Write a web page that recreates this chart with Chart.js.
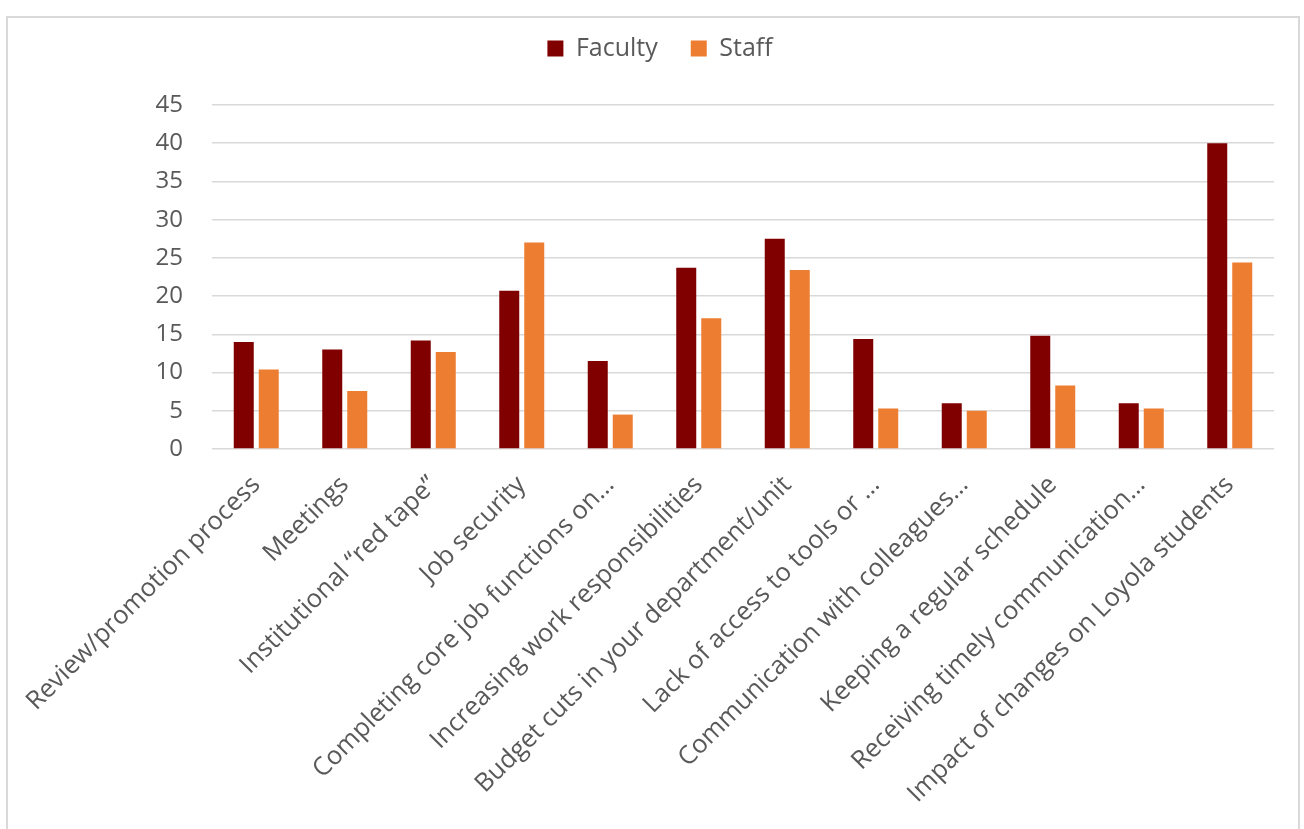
<!DOCTYPE html>
<html>
<head>
<meta charset="utf-8">
<script src="https://cdn.jsdelivr.net/npm/chart.js@4"></script>
<style>
    body { margin: 0; background: #fff; overflow: hidden; }
    #frame {
        position: absolute; left: 6px; top: 16px; width: 1294px; height: 840px;
        border: 2px solid #d9d9d9; box-sizing: border-box;
    }
    #wrap { position: absolute; left: 0; top: 0; width: 1304px; height: 829px; }
</style>
</head>
<body>
<div id="frame"></div>
<div id="wrap"><canvas id="barChart"></canvas></div>
<script>
const categories = [
    'Review/promotion process',
    'Meetings',
    'Institutional \u201cred tape\u201d',
    'Job security',
    'Completing core job functions on\u2026',
    'Increasing work responsibilities',
    'Budget cuts in your department/unit',
    'Lack of access to tools or \u2026',
    'Communication with colleagues\u2026',
    'Keeping a regular schedule',
    'Receiving timely communication\u2026',
    'Impact of changes on Loyola students'
];
const facultyValues = [14.0, 13.0, 14.2, 20.7, 11.5, 23.7, 27.5, 14.4, 6.0, 14.8, 6.0, 40.0];
const staffValues = [10.4, 7.6, 12.7, 27.0, 4.5, 17.1, 23.4, 5.3, 5.0, 8.3, 5.3, 24.4];
const yTicks = [0, 5, 10, 15, 20, 25, 30, 35, 40, 45];

const textColor = '#595959';
const gridColor = '#d9d9d9';

// fix the legend block height so the plot starts where it does in the picture
const legendHeight = {
    id: 'legendHeight',
    beforeInit(chart) {
        const fit = chart.legend.fit;
        chart.legend.fit = function () {
            fit.bind(chart.legend)();
            this.height = 102;
        };
    }
};

function initializeChart() {
    const ctx = document.getElementById('barChart').getContext('2d');
    new Chart(ctx, {
        type: 'bar',
        data: {
            labels: categories,
            datasets: [
                {
                    label: 'Faculty',
                    data: facultyValues,
                    backgroundColor: '#800000',
                    categoryPercentage: 0.565,
                    barPercentage: 0.8
                },
                {
                    label: 'Staff',
                    data: staffValues,
                    backgroundColor: '#ed7d31',
                    categoryPercentage: 0.565,
                    barPercentage: 0.8
                }
            ]
        },
        options: {
            responsive: true,
            maintainAspectRatio: false,
            animation: false,
            layout: {
                padding: { left: 46, right: 30, top: 3, bottom: 0 }
            },
            scales: {
                x: {
                    grid: { display: false, drawTicks: false },
                    border: { display: false },
                    ticks: {
                        autoSkip: false,
                        minRotation: 45,
                        maxRotation: 45,
                        padding: 21,
                        color: textColor,
                        font: { family: 'Open Sans', size: 25.5 }
                    },
                    afterFit(scale) {
                        scale.height = 380;
                        scale.paddingLeft = 0;
                        scale.paddingRight = 0;
                    }
                },
                y: {
                    min: 0,
                    max: 45,
                    afterBuildTicks(scale) {
                        scale.ticks = yTicks.map(v => ({ value: v }));
                    },
                    grid: { color: gridColor, lineWidth: 1.5, drawTicks: false },
                    border: { display: false },
                    ticks: {
                        padding: 29,
                        color: textColor,
                        font: { family: 'Open Sans', size: 24 }
                    },
                    afterFit(scale) {
                        scale.width = 166;
                    }
                }
            },
            plugins: {
                legend: {
                    position: 'top',
                    labels: {
                        boxWidth: 16,
                        boxHeight: 16,
                        padding: 33,
                        color: textColor,
                        font: { family: 'Open Sans', size: 25 }
                    }
                },
                tooltip: { enabled: false }
            }
        },
        plugins: [legendHeight]
    });
}

document.addEventListener('DOMContentLoaded', () => {
    initializeChart();
});
</script>
</body>
</html>
